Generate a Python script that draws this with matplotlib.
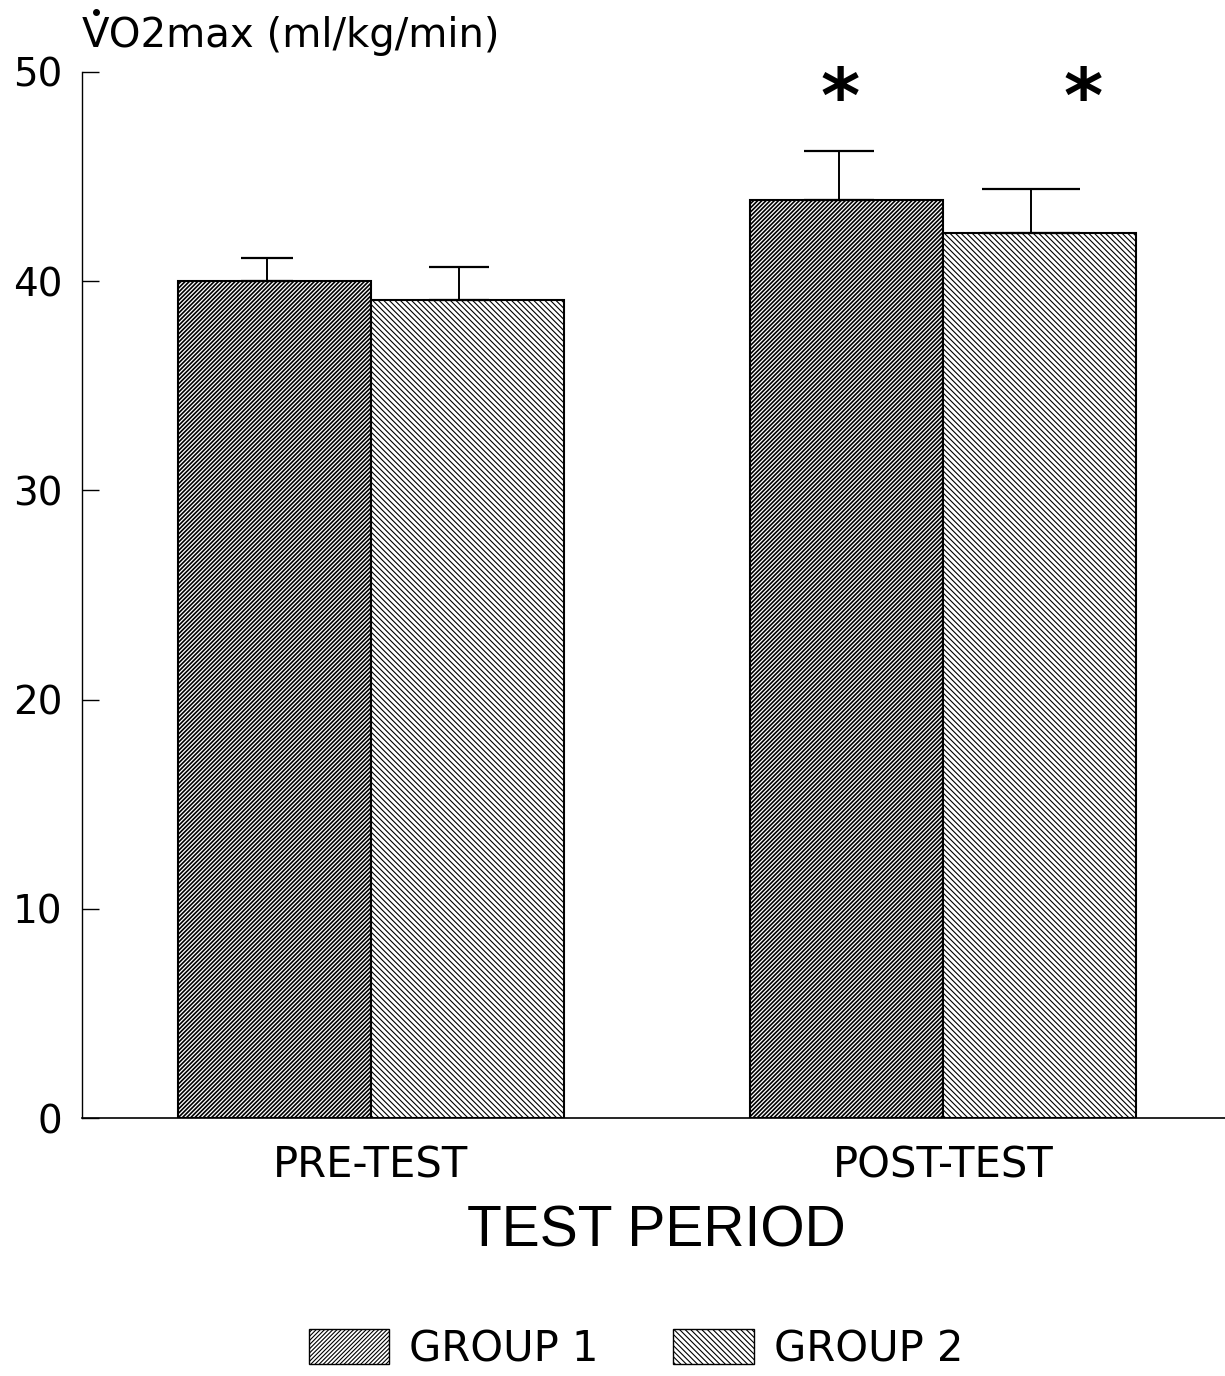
import matplotlib.pyplot as plt
import numpy as np
from matplotlib.patches import Patch
from matplotlib.lines import Line2D

periods = ['PRE-TEST', 'POST-TEST']
groups = ['GROUP 1', 'GROUP 2']
means = {'GROUP 1': [40.0, 43.9], 'GROUP 2': [39.1, 42.3]}
sems = {'GROUP 1': [1.1, 2.3], 'GROUP 2': [1.6, 2.1]}
significant = {'GROUP 1': [False, True], 'GROUP 2': [False, True]}
y_ticks = [0, 10, 20, 30, 40, 50]

plt.rcParams['font.family'] = ['DejaVu Sans']

hatches = {'GROUP 1': '////////', 'GROUP 2': '\\\\\\\\\\\\'}
hatch_lw = {'GROUP 1': 1.2, 'GROUP 2': 0.8}
# cap half-widths (points) and small offsets as drawn in the original
capw = {'GROUP 1': [19, 25.5], 'GROUP 2': [21.5, 35]}
star_dx = {'GROUP 1': [0, -0.012], 'GROUP 2': [0, 0.077]}

fig = plt.figure(figsize=(12.25, 13.76), dpi=100)
ax = fig.add_axes([0.067, 0.1875, 0.933, 0.7602])

x = np.arange(len(periods))
w = 0.337
for i, g in enumerate(groups):
    offs = x + (i - 0.5) * w
    for j in range(len(periods)):
        plt.rcParams['hatch.linewidth'] = hatch_lw[g]
        ax.bar(offs[j], means[g][j], width=w, facecolor='white', edgecolor='black',
               linewidth=1.5, hatch=hatches[g], zorder=2)
        ax.errorbar(offs[j] - 0.014, means[g][j], yerr=[[0], [sems[g][j]]], fmt='none',
                    ecolor='black', elinewidth=1.4, capsize=capw[g][j], capthick=1.6,
                    zorder=3)
        if significant[g][j]:
            ax.text(offs[j] + star_dx[g][j], 47.6, '*', ha='center', va='baseline',
                    fontsize=54, fontweight='bold', clip_on=False)

ax.set_xlim(-0.505, 1.493)
ax.set_ylim(0, 50)
ax.set_yticks(y_ticks)
ax.set_yticklabels([str(t) for t in y_ticks], fontsize=28)
ax.tick_params(axis='y', direction='in', length=12, width=1, pad=14)
ax.set_xticks(x)
ax.set_xticklabels(periods, fontsize=30)
ax.tick_params(axis='x', length=0, pad=19)
for s in ['top', 'right']:
    ax.spines[s].set_visible(False)
ax.spines['left'].set_linewidth(1)
ax.spines['bottom'].set_linewidth(1.2)

fig.text(0.536, 0.1047, 'TEST PERIOD', ha='center', va='center', fontsize=41,
         family='Liberation Sans')
fig.text(0.067, 0.974, 'VO2max (ml/kg/min)', ha='left', va='center', fontsize=29)
# dot over the V (rate of oxygen uptake)
fig.add_artist(Line2D([0.0785], [0.991], marker='o', markersize=4, color='black',
                      transform=fig.transFigure))

handles = [Patch(facecolor='white', edgecolor='black', hatch=hatches[g], label=g) for g in groups]
fig.legend(handles=handles, loc='center', bbox_to_anchor=(0.519, 0.0196), ncol=2,
           frameon=False, fontsize=30, handlelength=1.94, handleheight=0.91,
           columnspacing=1.77, handletextpad=0.48, borderpad=0, borderaxespad=0)

fig.savefig('out.png', dpi=100)
